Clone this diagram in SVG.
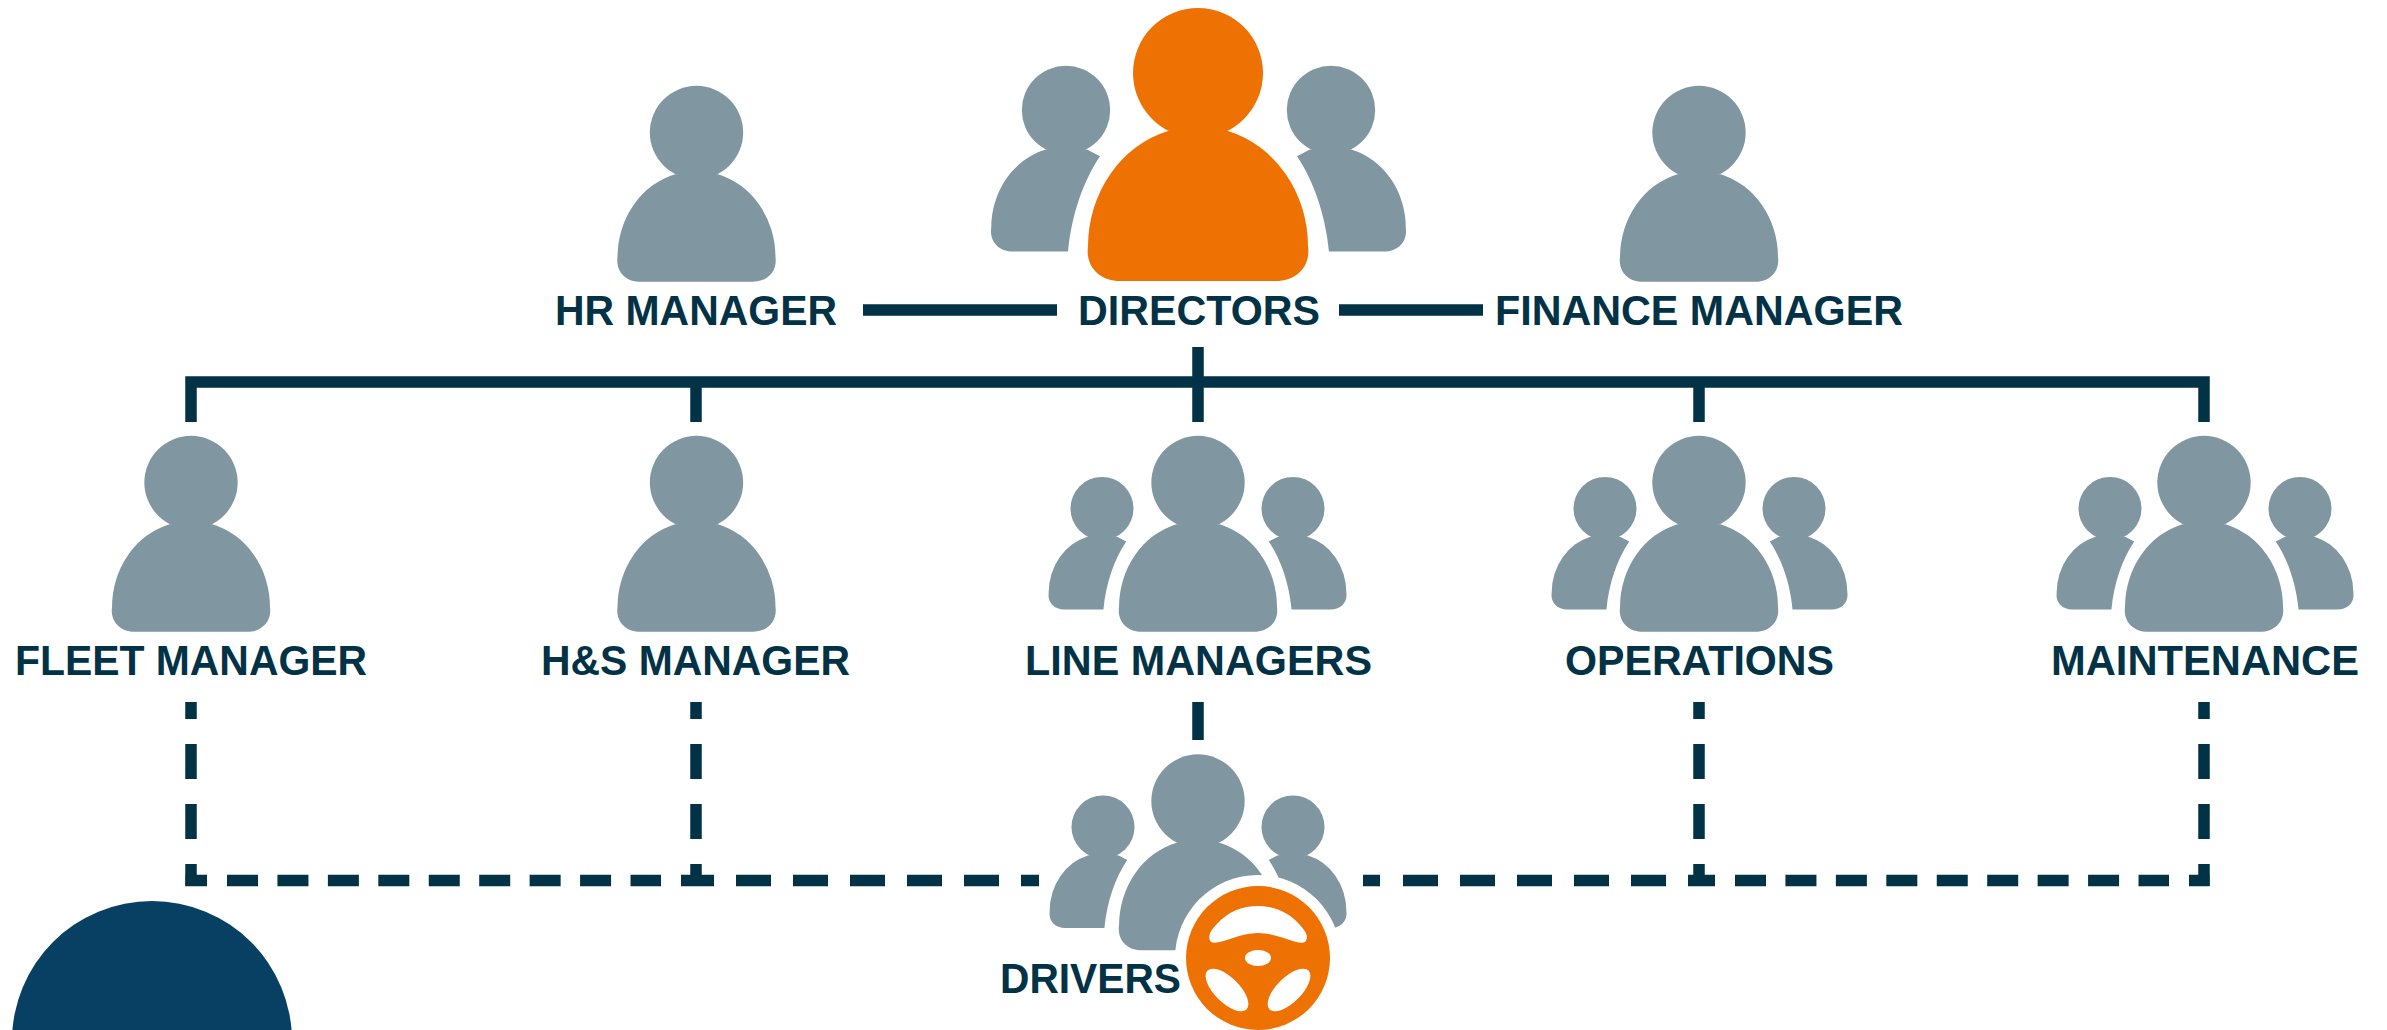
<svg xmlns="http://www.w3.org/2000/svg" width="2387" height="1030" viewBox="0 0 2387 1030">
<style>
.l{font-family:"Liberation Sans",Arial,sans-serif;font-weight:700;font-size:42px;fill:#023246}
.c{fill:none;stroke:#023246;stroke-width:11.500}
.v{stroke-dasharray:35 25;stroke-dashoffset:18}
.a{stroke-dasharray:31 19.440}
.b{stroke-dasharray:35 22}
.g{fill:#8097a1}
.o{fill:#ee7203}
</style>
<defs>
<g id="main"><circle cx="0" cy="0" r="65"/><path d="M-30 58A110 120 0 0 0-110 173C-113 195-97 208-78 208H78C97 208 113 195 110 173A110 120 0 0 0 30 58Z"/></g>
<g id="side"><circle cx="0" cy="0" r="65"/><path d="M-30 58A110 120 0 0 0-110 173C-113 195-97 208-78 208H3C8 155 25 105 50 68L31 58Z"/></g>
</defs>
<rect width="2387" height="1030" fill="#fff"/>
<g id="connectors">
<path class="c" d="M863 310H1057M1339 310H1483M1198 347V422M191 422V382H2204V422M696 382V422M1699 382V422M1198 702V740"/>
<path class="c v" d="M191 702V886"/>
<path class="c v" d="M696 702V886"/>
<path class="c v" d="M1699 702V886"/>
<path class="c v" d="M2204 702V886"/>
<path class="c" d="M185.500 880.500H207M681 880.500H714M1363 880.500H1380M2189 880.500H2209.500"/>
<path class="c a" d="M227 880.500H661"/>
<path class="c b" d="M736 880.500H1039"/>
<path class="c b" d="M1403 880.500H1715"/>
<path class="c a" d="M1735 880.500H2169"/>
</g>
<g id="hr-manager" class="g"><use href="#main" transform="translate(696.500 132.500) scale(.718)"/><text class="l" x="555" y="325" textLength="282" lengthAdjust="spacingAndGlyphs">HR MANAGER</text></g>
<g id="directors"><use class="g" href="#side" transform="translate(1066 110) scale(.68)"/><use class="g" href="#side" transform="translate(1331 110) scale(-.68 .68)"/><use class="o" href="#main" transform="translate(1198 73)"/><text class="l" x="1078" y="325" textLength="242" lengthAdjust="spacingAndGlyphs">DIRECTORS</text></g>
<g id="finance-manager" class="g"><use href="#main" transform="translate(1699 132.500) scale(.718)"/><text class="l" x="1495" y="325" textLength="408" lengthAdjust="spacingAndGlyphs">FINANCE MANAGER</text></g>
<g id="fleet-manager" class="g"><use href="#main" transform="translate(191 482.500) scale(.718)"/><text class="l" x="15" y="674.500" textLength="352" lengthAdjust="spacingAndGlyphs">FLEET MANAGER</text></g>
<g id="hs-manager" class="g"><use href="#main" transform="translate(696.500 482.500) scale(.718)"/><text class="l" x="541" y="674.500" textLength="309" lengthAdjust="spacingAndGlyphs">H&amp;S MANAGER</text></g>
<g id="line-managers" class="g"><use href="#side" transform="translate(1102 508.500) scale(.485)"/><use href="#side" transform="translate(1293 508.500) scale(-.485 .485)"/><use href="#main" transform="translate(1198 482.500) scale(.718)"/><text class="l" x="1025" y="674.500" textLength="347" lengthAdjust="spacingAndGlyphs">LINE MANAGERS</text></g>
<g id="operations" class="g"><use href="#side" transform="translate(1605 508.500) scale(.485)"/><use href="#side" transform="translate(1794 508.500) scale(-.485 .485)"/><use href="#main" transform="translate(1699 482.500) scale(.718)"/><text class="l" x="1565" y="674.500" textLength="269" lengthAdjust="spacingAndGlyphs">OPERATIONS</text></g>
<g id="maintenance" class="g"><use href="#side" transform="translate(2110 508.500) scale(.485)"/><use href="#side" transform="translate(2300 508.500) scale(-.485 .485)"/><use href="#main" transform="translate(2204 482.500) scale(.718)"/><text class="l" x="2051" y="674.500" textLength="308" lengthAdjust="spacingAndGlyphs">MAINTENANCE</text></g>
<g id="drivers" class="g"><use href="#side" transform="translate(1103 827) scale(.485)"/><use href="#side" transform="translate(1293 827) scale(-.485 .485)"/><use href="#main" transform="translate(1198 801) scale(.718)"/><circle cx="1258" cy="958" r="83" fill="#fff"/><g transform="translate(1258 958)"><circle class="o" r="72"/><g fill="#fff"><path d="M-47-16C-52-22-45-30-42-33C-30-47-15-52 0-52C15-52 30-47 42-33C46-28 52-22 47-16C40-12 20-25 0-25C-20-25-40-12-47-16Z"/><ellipse cx="0" cy="0" rx="13" ry="8"/><ellipse cx="-31" cy="32" rx="27.500" ry="12.500" transform="rotate(45 -31 32)"/><ellipse cx="31" cy="32" rx="27.500" ry="12.500" transform="rotate(-45 31 32)"/></g></g><text class="l" x="1000" y="993" textLength="181" lengthAdjust="spacingAndGlyphs">DRIVERS</text></g>
<circle id="blue-circle" cx="152" cy="1041" r="140" fill="#074063"/>
</svg>
